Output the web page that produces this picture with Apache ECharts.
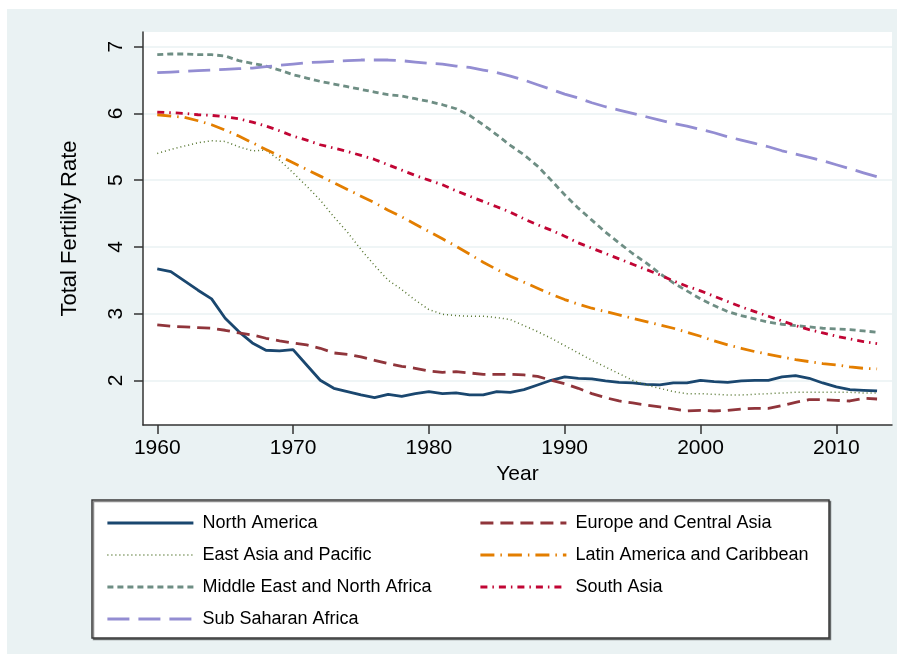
<!DOCTYPE html>
<html>
<head>
<meta charset="utf-8">
<script src="https://cdn.jsdelivr.net/npm/echarts@6/dist/echarts.min.js"></script>
<style>
  html, body { margin: 0; padding: 0; background: #fff; }
  #chart { width: 904px; height: 661px; }
</style>
</head>
<body>
<div id="chart"></div>
<script>
// years 1960..2013
var years = [];
for (var y = 1960; y <= 2013; y++) years.push(y);

var xTicks = [1960, 1970, 1980, 1990, 2000, 2010];
var yTicks = [2, 3, 4, 5, 6, 7];

// total fertility rate
var northAmerica = [3.67, 3.63, 3.49, 3.35, 3.22, 2.93, 2.73, 2.56, 2.45, 2.44,
  2.46, 2.23, 2.00, 1.88, 1.83, 1.78, 1.74, 1.79, 1.76, 1.80,
  1.83, 1.80, 1.81, 1.78, 1.78, 1.83, 1.82, 1.86, 1.93, 2.00,
  2.05, 2.03, 2.02, 1.99, 1.97, 1.96, 1.94, 1.93, 1.96, 1.96,
  2.00, 1.98, 1.97, 1.99, 2.00, 2.00, 2.05, 2.07, 2.03, 1.96,
  1.90, 1.86, 1.85, 1.84];
var europeCentralAsia = [2.83, 2.81, 2.80, 2.79, 2.78, 2.75, 2.71, 2.68, 2.63, 2.59,
  2.56, 2.53, 2.48, 2.41, 2.39, 2.35, 2.30, 2.25, 2.21, 2.18,
  2.14, 2.12, 2.13, 2.11, 2.09, 2.09, 2.09, 2.08, 2.06, 2.00,
  1.95, 1.88, 1.80, 1.74, 1.69, 1.66, 1.63, 1.60, 1.57, 1.54,
  1.55, 1.54, 1.55, 1.57, 1.58, 1.58, 1.62, 1.67, 1.71, 1.71,
  1.70, 1.69, 1.73, 1.72];
var eastAsiaPacific = [5.40, 5.46, 5.51, 5.56, 5.59, 5.58, 5.50, 5.44, 5.45, 5.30,
  5.11, 4.91, 4.70, 4.45, 4.22, 3.96, 3.72, 3.50, 3.36, 3.20,
  3.06, 2.99, 2.97, 2.96, 2.96, 2.94, 2.91, 2.82, 2.73, 2.63,
  2.52, 2.41, 2.30, 2.20, 2.10, 2.00, 1.93, 1.88, 1.83, 1.80,
  1.80, 1.79, 1.78, 1.78, 1.79, 1.80, 1.81, 1.82, 1.82, 1.82,
  1.82, 1.82, 1.81, 1.81];
var latinAmerica = [5.98, 5.96, 5.94, 5.89, 5.83, 5.75, 5.66, 5.56, 5.46, 5.36,
  5.26, 5.16, 5.06, 4.96, 4.86, 4.76, 4.66, 4.55, 4.45, 4.34,
  4.23, 4.12, 4.01, 3.89, 3.77, 3.66, 3.56, 3.47, 3.38, 3.29,
  3.21, 3.14, 3.08, 3.03, 2.98, 2.93, 2.88, 2.83, 2.78, 2.72,
  2.66, 2.59, 2.53, 2.48, 2.43, 2.39, 2.35, 2.31, 2.28, 2.25,
  2.23, 2.20, 2.18, 2.17];
var middleEast = [6.88, 6.89, 6.89, 6.88, 6.88, 6.86, 6.79, 6.75, 6.71, 6.65,
  6.58, 6.53, 6.48, 6.44, 6.40, 6.36, 6.32, 6.28, 6.26, 6.22,
  6.18, 6.13, 6.07, 5.97, 5.83, 5.68, 5.52, 5.38, 5.21, 5.00,
  4.78, 4.58, 4.40, 4.22, 4.06, 3.90, 3.76, 3.60, 3.46, 3.34,
  3.22, 3.12, 3.03, 2.97, 2.92, 2.87, 2.84, 2.82, 2.80, 2.78,
  2.77, 2.76, 2.74, 2.72];
var southAsia = [6.02, 6.01, 6.00, 5.98, 5.97, 5.95, 5.92, 5.87, 5.81, 5.74,
  5.66, 5.60, 5.53, 5.48, 5.43, 5.37, 5.31, 5.23, 5.15, 5.07,
  5.00, 4.93, 4.84, 4.76, 4.68, 4.60, 4.52, 4.42, 4.33, 4.25,
  4.16, 4.06, 3.98, 3.90, 3.82, 3.74, 3.66, 3.58, 3.49, 3.41,
  3.34, 3.26, 3.18, 3.10, 3.03, 2.96, 2.89, 2.82, 2.76, 2.71,
  2.66, 2.62, 2.58, 2.55];
var subSaharan = [6.61, 6.62, 6.63, 6.64, 6.65, 6.66, 6.67, 6.68, 6.70, 6.72,
  6.74, 6.76, 6.77, 6.78, 6.79, 6.80, 6.80, 6.80, 6.79, 6.77,
  6.75, 6.74, 6.71, 6.69, 6.65, 6.61, 6.56, 6.50, 6.43, 6.36,
  6.29, 6.23, 6.16, 6.10, 6.05, 6.00, 5.95, 5.90, 5.85, 5.81,
  5.76, 5.71, 5.65, 5.60, 5.55, 5.50, 5.44, 5.39, 5.34, 5.29,
  5.23, 5.17, 5.11, 5.05];

function pairs(vals) {
  return years.map(function (yr, i) { return [yr, vals[i]]; });
}

function line(name, vals, color, width, dash) {
  return {
    name: name,
    type: "line",
    symbol: "none",
    data: pairs(vals),
    lineStyle: { color: color, width: width, type: dash },
    itemStyle: { color: color },
    emphasis: { disabled: true }
  };
}

var font = "'Liberation Sans', Arial, sans-serif";
var chart = echarts.init(document.getElementById("chart"));

var legendCommon = {
  orient: "vertical",
  top: 508,
  itemWidth: 86,
  itemHeight: 14,
  itemGap: 12,
  itemStyle: { opacity: 0 },
  lineStyle: { width: 2.8 },
  textStyle: { fontFamily: font, fontSize: 18, color: "#000", lineHeight: 20, padding: [0, 0, 0, 4] }
};

var option = {
  animation: false,
  backgroundColor: "#fff",
  graphic: [
    { type: "rect", z: -10, shape: { x: 7, y: 9, width: 890, height: 645 }, style: { fill: "#EAF2F3" } },
    {
      type: "rect", z: 0,
      shape: { x: 92, y: 500, width: 737, height: 138 },
      style: { fill: "#fff", stroke: "#3a3a3a", lineWidth: 1.5, shadowColor: "rgba(0,0,0,0.45)", shadowOffsetX: 1.5, shadowOffsetY: 1.5 }
    }
  ],
  grid: {
    left: 143, right: 12, top: 32, bottom: 236,
    show: true, backgroundColor: "#fff", borderWidth: 0
  },
  legend: [
    Object.assign({}, legendCommon, {
      left: 101,
      data: [
        "North America",
        { name: "East Asia and Pacific", lineStyle: { width: 1.5 } },
        "Middle East and North Africa",
        "Sub Saharan Africa"
      ]
    }),
    Object.assign({}, legendCommon, {
      left: 474,
      data: ["Europe and Central Asia", "Latin America and Caribbean", "South Asia"]
    })
  ],
  xAxis: {
    type: "value",
    min: 1958.95,
    max: 2014.1,
    name: "Year",
    nameLocation: "middle",
    nameGap: 36,
    nameTextStyle: { fontFamily: font, fontSize: 21, color: "#000" },
    axisLine: { lineStyle: { color: "#333", width: 1.5 } },
    axisTick: { length: 9, lineStyle: { color: "#333", width: 1.5 }, customValues: xTicks },
    axisLabel: {
      fontFamily: font, fontSize: 21, color: "#000", margin: 13, customValues: xTicks,
      formatter: function (v) { return String(v); }
    },
    splitLine: { show: false }
  },
  yAxis: {
    type: "value",
    min: 1.33,
    max: 7.22,
    name: "Total Fertility Rate",
    nameLocation: "middle",
    nameRotate: 90,
    nameGap: 62,
    nameTextStyle: { fontFamily: font, fontSize: 22, color: "#000" },
    axisLine: { show: true, lineStyle: { color: "#333", width: 1.5 } },
    axisTick: { show: true, length: 9, lineStyle: { color: "#333", width: 1.5 }, customValues: yTicks },
    axisLabel: { fontFamily: font, fontSize: 21, color: "#000", rotate: 90, margin: 16, customValues: yTicks },
    splitLine: { show: true, lineStyle: { color: "#EAF2F3", width: 1.5 } }
  },
  series: [
    line("North America", northAmerica, "#1A476F", 2.8, "solid"),
    line("Europe and Central Asia", europeCentralAsia, "#90353B", 2.8, [13, 7]),
    line("East Asia and Pacific", eastAsiaPacific, "#55752F", 1.5, [1, 3]),
    line("Latin America and Caribbean", latinAmerica, "#E37E00", 2.8, [14, 6, 1.5, 6]),
    line("Middle East and North Africa", middleEast, "#6E8E84", 2.8, [6, 4]),
    line("South Asia", southAsia, "#C10534", 2.8, [7, 5, 1.5, 5]),
    line("Sub Saharan Africa", subSaharan, "#938DD2", 2.8, [22, 9])
  ]
};

chart.setOption(option);
</script>
</body>
</html>
